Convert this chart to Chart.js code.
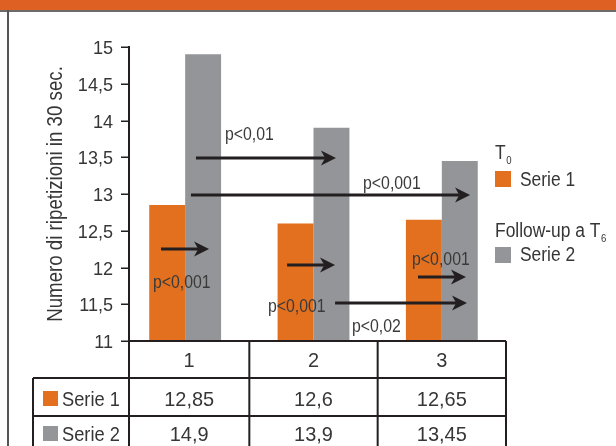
<!DOCTYPE html>
<html>
<head>
<meta charset="utf-8">
<script src="https://cdn.jsdelivr.net/npm/chart.js@4/dist/chart.umd.min.js"></script>
<style>
  html, body { margin: 0; padding: 0; background: #fff; overflow: hidden; }
  #wrap { position: relative; width: 616px; height: 446px; }
</style>
</head>
<body>
<div id="wrap"><canvas id="c" width="616" height="446"></canvas></div>
<script>
// ---- data ----
const categories = ['1', '2', '3'];
const serie1 = [12.85, 12.6, 12.65];   // T0
const serie2 = [14.9, 13.9, 13.45];    // Follow-up a T6
const seriesNames = ['Serie 1', 'Serie 2'];
const yTicks = [11, 11.5, 12, 12.5, 13, 13.5, 14, 14.5, 15];
const yTitle = 'Numero di ripetizioni in 30 sec.';

// significance arrows, in axis units (x: category index, y: value)
const comparisons = [
  { from: -0.188, to: 0.186, at: 12.252, text: 'p<0,001', tx: -0.251, ty: 11.721 },
  { from: 0.084,  to: 1.175, at: 13.49,  text: 'p<0,01',  tx: 0.310,  ty: 13.735 },
  { from: 0.045,  to: 2.220, at: 12.986, text: 'p<0,001', tx: 1.386,  ty: 13.068 },
  { from: 0.794,  to: 1.168, at: 12.034, text: 'p<0,001', tx: 0.645,  ty: 11.395 },
  { from: 1.814,  to: 2.188, at: 11.871, text: 'p<0,001', tx: 1.768,  ty: 12.034 },
  { from: 1.168,  to: 2.196, at: 11.517, text: 'p<0,02',  tx: 1.300,  ty: 11.122 }
];

// ---- styling ----
const FONT = "'Liberation Sans', Arial, sans-serif";
const ORANGE = '#E2701E';
const GRAY = '#939598';
const INK = '#231F20';
const TEXT = '#363636';
const AXIS_X = 129;   // the value axis sits a little inside the first category band

const fmt = v => String(v).replace('.', ',');

// condensed text: regular face squeezed horizontally
function text(ctx, str, x, y, size, squeeze, align, color) {
  ctx.save();
  ctx.translate(x, y);
  ctx.scale(squeeze, 1);
  ctx.font = `${size}px ${FONT}`;
  ctx.fillStyle = color || TEXT;
  ctx.textAlign = align || 'left';
  ctx.textBaseline = 'alphabetic';
  ctx.fillText(str, 0, 0);
  const w = ctx.measureText(str).width * squeeze;
  ctx.restore();
  return w;
}

function drawArrow(ctx, x0, x1, y) {
  const head = 15, half = 7.5;
  ctx.save();
  ctx.strokeStyle = INK;
  ctx.fillStyle = INK;
  ctx.lineWidth = 3;
  ctx.beginPath();
  ctx.moveTo(x0, y);
  ctx.lineTo(x1 - head + 4, y);
  ctx.stroke();
  ctx.beginPath();
  ctx.moveTo(x1, y);
  ctx.lineTo(x1 - head, y - half);
  ctx.lineTo(x1 - head * 0.72, y);
  ctx.lineTo(x1 - head, y + half);
  ctx.closePath();
  ctx.fill();
  ctx.restore();
}

// page frame: orange band on top and thin rules
const framePlugin = {
  id: 'frame',
  beforeDraw(chart) {
    const ctx = chart.ctx;
    ctx.save();
    ctx.fillStyle = '#fff';
    ctx.fillRect(0, 0, chart.width, chart.height);
    ctx.fillStyle = '#DE6023';
    ctx.fillRect(0, 0, chart.width, 10);
    ctx.fillStyle = '#6b6b6b';
    ctx.fillRect(0, 10, chart.width, 2);
    ctx.fillStyle = '#555';
    ctx.fillRect(7, 10, 2, chart.height - 10);
    ctx.restore();
  }
};

// value axis: line, tick marks, labels and title
const yAxisPlugin = {
  id: 'yaxis',
  afterDraw(chart) {
    const ctx = chart.ctx;
    const ys = chart.scales.y;
    const { top, bottom } = chart.chartArea;
    ctx.save();
    ctx.strokeStyle = INK;
    ctx.lineWidth = 2;
    ctx.beginPath();
    ctx.moveTo(AXIS_X, top - 1);
    ctx.lineTo(AXIS_X, bottom);
    ctx.stroke();
    ctx.lineWidth = 1.5;
    ctx.beginPath();
    ys.ticks.forEach(t => {
      const y = Math.round(ys.getPixelForValue(t.value)) + 0.25;
      ctx.moveTo(AXIS_X - 8, y);
      ctx.lineTo(AXIS_X, y);
    });
    ctx.stroke();
    ctx.restore();
    ys.ticks.forEach(t => {
      text(ctx, fmt(t.value), 113, ys.getPixelForValue(t.value) + 7, 19, 0.95, 'right');
    });
    ctx.save();
    ctx.translate(62, (top + bottom) / 2);
    ctx.rotate(-Math.PI / 2);
    text(ctx, yTitle, 0, 0, 22, 0.85, 'center');
    ctx.restore();
  }
};

// p-value arrows
const arrowPlugin = {
  id: 'arrows',
  afterDatasetsDraw(chart) {
    const ctx = chart.ctx;
    const xs = chart.scales.x, ys = chart.scales.y;
    comparisons.forEach(c => {
      drawArrow(ctx, xs.getPixelForValue(c.from), xs.getPixelForValue(c.to), ys.getPixelForValue(c.at));
      text(ctx, c.text, xs.getPixelForValue(c.tx), ys.getPixelForValue(c.ty), 18, 0.88, 'left', '#3a3a3a');
    });
  }
};

// data table beneath the plot, inner columns follow the category scale
const tablePlugin = {
  id: 'datatable',
  afterDraw(chart) {
    const ctx = chart.ctx;
    const xs = chart.scales.x;
    const { right, bottom } = chart.chartArea;
    const H = chart.height;
    const row1 = bottom + 37, row2 = bottom + 75;
    const tableLeft = 33;
    const cols = [AXIS_X];
    for (let i = 1; i < categories.length; i++) cols.push(xs.getPixelForValue(i - 0.5));
    cols.push(right);
    ctx.save();
    ctx.strokeStyle = INK;
    ctx.lineWidth = 2;
    ctx.beginPath();
    ctx.moveTo(AXIS_X, bottom); ctx.lineTo(right, bottom);
    ctx.moveTo(tableLeft, row1); ctx.lineTo(right, row1);
    ctx.moveTo(tableLeft, row2); ctx.lineTo(right, row2);
    ctx.moveTo(tableLeft, row1); ctx.lineTo(tableLeft, H);
    cols.forEach(x => { ctx.moveTo(x, bottom); ctx.lineTo(x, H); });
    ctx.stroke();
    ctx.restore();

    categories.forEach((c, i) => {
      const cx = (cols[i] + cols[i + 1]) / 2;
      text(ctx, c, cx, bottom + 26, 21, 0.95, 'center');
      text(ctx, fmt(serie1[i]), cx, row1 + 28, 21, 0.95, 'center');
      text(ctx, fmt(serie2[i]), cx, row2 + 25, 21, 0.95, 'center');
    });
    [[ORANGE, row1 + 28], [GRAY, row2 + 25]].forEach(([col, base], k) => {
      ctx.save();
      ctx.fillStyle = col;
      ctx.fillRect(43, base - 15, 15, 15);
      ctx.restore();
      text(ctx, seriesNames[k], 62, base, 21, 0.87, 'left');
    });
  }
};

// legend with group headings
const legendPlugin = {
  id: 'legendBox',
  afterDraw(chart) {
    const ctx = chart.ctx;
    const x = 495;
    let w = text(ctx, 'T', x, 159, 20, 0.87);
    text(ctx, '0', x + w + 0.5, 164, 11, 0.87);
    w = text(ctx, 'Follow-up a T', x, 237, 20, 0.87);
    text(ctx, '6', x + w + 0.5, 242, 11, 0.87);
    ctx.save();
    ctx.fillStyle = ORANGE;
    ctx.fillRect(x, 171, 16, 16);
    ctx.fillStyle = GRAY;
    ctx.fillRect(x, 247, 16, 16);
    ctx.restore();
    text(ctx, seriesNames[0], 520, 186, 20, 0.87);
    text(ctx, seriesNames[1], 520, 261, 20, 0.87);
  }
};

new Chart(document.getElementById('c').getContext('2d'), {
  type: 'bar',
  data: {
    labels: categories,
    datasets: [
      { label: seriesNames[0], data: serie1, backgroundColor: ORANGE, borderWidth: 0,
        categoryPercentage: 0.56, barPercentage: 1 },
      { label: seriesNames[1], data: serie2, backgroundColor: GRAY, borderWidth: 0,
        categoryPercentage: 0.56, barPercentage: 1 }
    ]
  },
  options: {
    responsive: false,
    animation: false,
    devicePixelRatio: 1,
    layout: { padding: { left: 0, right: 110, top: 47, bottom: 105 } },
    plugins: { legend: { display: false }, tooltip: { enabled: false } },
    scales: {
      x: { display: false, offset: true },
      y: {
        min: 11, max: 15,
        afterFit(s) { s.width = 121; },
        afterBuildTicks(s) { s.ticks = yTicks.map(v => ({ value: v })); },
        ticks: { display: false },
        grid: { display: false },
        border: { display: false }
      }
    }
  },
  plugins: [framePlugin, arrowPlugin, tablePlugin, legendPlugin, yAxisPlugin]
});
</script>
</body>
</html>
